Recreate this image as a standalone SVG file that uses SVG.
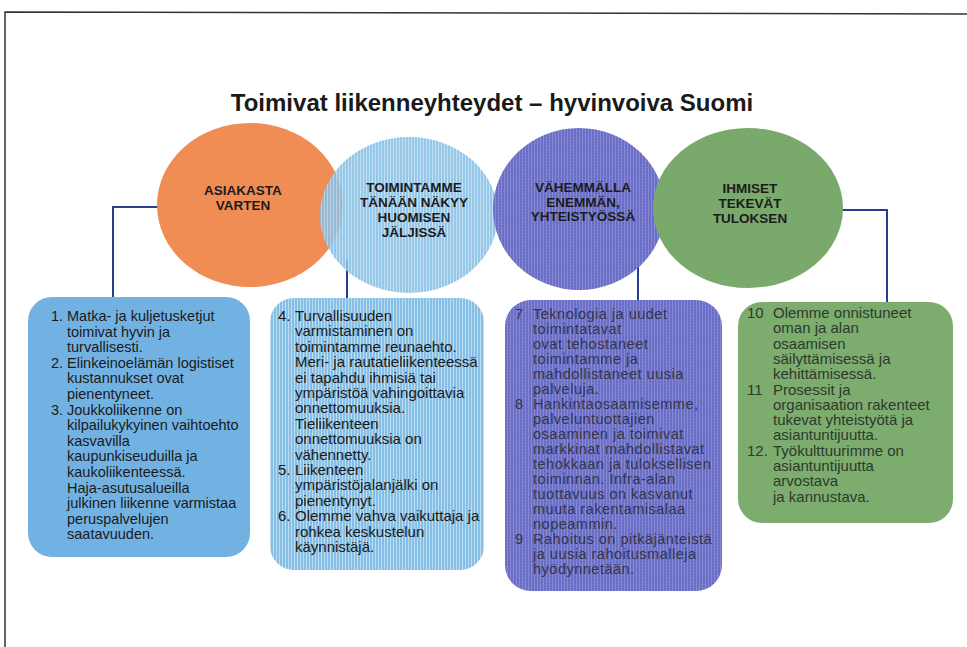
<svg xmlns="http://www.w3.org/2000/svg" width="967" height="647" viewBox="0 0 967 647">
<defs>
<pattern id="stripeBlue" width="3" height="4" patternUnits="userSpaceOnUse"><rect width="3" height="4" fill="#86bfe5"/><rect width="1" height="4" fill="#bddcf1"/></pattern>
<pattern id="stripePurple" width="3" height="3" patternUnits="userSpaceOnUse"><rect width="3" height="3" fill="#676bc3"/><rect width="1" height="3" fill="#8a8dd6"/><rect y="2" width="3" height="1" fill="#7a7dcf" opacity="0.6"/></pattern>
<style>
.title{font-family:"Liberation Sans",Arial,sans-serif;font-weight:bold;font-size:24px;fill:#1a1a1a}
.ct{font-family:"Liberation Sans",Arial,sans-serif;font-weight:bold;font-size:13.5px;text-anchor:middle;fill:#1c1c1c}
.bt{font-family:"Liberation Sans",Arial,sans-serif;fill:#1a1a1a}
.b1{font-size:14.5px}
.b2{font-size:15px}
.b3{font-size:14.5px;letter-spacing:0.5px;fill:#34344a}
.b4{font-size:15px;fill:#2c3a2c}
.conn{fill:none;stroke:#24408e;stroke-width:2}
</style>
</defs>
<rect width="967" height="647" fill="#ffffff"/>
<g id="frame">
<path d="M5,647 V12 L967,14" fill="none" stroke="#333" stroke-width="1.5"/>
</g>
<text class="title" x="492" y="111" text-anchor="middle">Toimivat liikenneyhteydet – hyvinvoiva Suomi</text>

<g id="connectors">
<path class="conn" d="M170,207 H113 V298"/>
<path class="conn" d="M347,260 V299"/>
<path class="conn" d="M638,260 V301"/>
<path class="conn" d="M830,210 H887 V303"/>
</g>

<g id="circle-asiakasta">
<ellipse cx="250" cy="205" rx="93" ry="82" fill="#f08d55"/>
<text class="ct" x="243" y="195">ASIAKASTA</text>
<text class="ct" x="243" y="210">VARTEN</text>
</g>
<g id="circle-toimintamme">
<ellipse cx="409" cy="215" rx="89" ry="78" fill="url(#stripeBlue)" opacity="0.88"/>
<text class="ct" x="414" y="192">TOIMINTAMME</text>
<text class="ct" x="414" y="207">TÄNÄÄN NÄKYY</text>
<text class="ct" x="414" y="222">HUOMISEN</text>
<text class="ct" x="414" y="237">JÄLJISSÄ</text>
</g>
<g id="circle-vahemmalla">
<ellipse cx="579" cy="209" rx="86" ry="81" fill="url(#stripePurple)"/>
<text class="ct" x="583" y="192" fill="#2a2a3a">VÄHEMMÄLLA</text>
<text class="ct" x="583" y="206.5" fill="#2a2a3a">ENEMMÄN,</text>
<text class="ct" x="583" y="221" fill="#2a2a3a">YHTEISTYÖSSÄ</text>
</g>
<g id="circle-ihmiset">
<ellipse cx="748" cy="208" rx="95" ry="80" fill="#79a96b"/>
<text class="ct" x="750" y="193" fill="#283628">IHMISET</text>
<text class="ct" x="750" y="208" fill="#283628">TEKEVÄT</text>
<text class="ct" x="750" y="223" fill="#283628">TULOKSEN</text>
</g>

<g id="box-1">
<rect x="28" y="297" width="222" height="260" rx="24" fill="#72b2e3"/>
<text class="bt b1">
<tspan x="51" y="321">1.</tspan><tspan x="67" y="321">Matka- ja kuljetusketjut</tspan>
<tspan x="67" y="336.6">toimivat hyvin ja</tspan>
<tspan x="67" y="352.2">turvallisesti.</tspan>
<tspan x="51" y="367.8">2.</tspan><tspan x="67" y="367.8">Elinkeinoelämän logistiset</tspan>
<tspan x="67" y="383.4">kustannukset ovat</tspan>
<tspan x="67" y="399">pienentyneet.</tspan>
<tspan x="51" y="414.6">3.</tspan><tspan x="67" y="414.6">Joukkoliikenne on</tspan>
<tspan x="67" y="430.2">kilpailukykyinen vaihtoehto</tspan>
<tspan x="67" y="445.8">kasvavilla</tspan>
<tspan x="67" y="461.4">kaupunkiseuduilla ja</tspan>
<tspan x="67" y="477">kaukoliikenteessä.</tspan>
<tspan x="67" y="492.6">Haja-asutusalueilla</tspan>
<tspan x="67" y="508.2">julkinen liikenne varmistaa</tspan>
<tspan x="67" y="523.8">peruspalvelujen</tspan>
<tspan x="67" y="539.4">saatavuuden.</tspan>
</text>
</g>

<g id="box-2">
<rect x="270" y="298" width="214" height="272" rx="24" fill="url(#stripeBlue)"/>
<text class="bt b2">
<tspan x="278" y="321">4.</tspan><tspan x="295" y="321">Turvallisuuden</tspan>
<tspan x="295" y="336.4">varmistaminen on</tspan>
<tspan x="295" y="351.8">toimintamme reunaehto.</tspan>
<tspan x="295" y="367.2">Meri- ja rautatieliikenteessä</tspan>
<tspan x="295" y="382.6">ei tapahdu ihmisiä tai</tspan>
<tspan x="295" y="398">ympäristöä vahingoittavia</tspan>
<tspan x="295" y="413.4">onnettomuuksia.</tspan>
<tspan x="295" y="428.8">Tieliikenteen</tspan>
<tspan x="295" y="444.2">onnettomuuksia on</tspan>
<tspan x="295" y="459.6">vähennetty.</tspan>
<tspan x="278" y="475">5.</tspan><tspan x="295" y="475">Liikenteen</tspan>
<tspan x="295" y="490.4">ympäristöjalanjälki on</tspan>
<tspan x="295" y="505.8">pienentynyt.</tspan>
<tspan x="278" y="521.2">6.</tspan><tspan x="295" y="521.2">Olemme vahva vaikuttaja ja</tspan>
<tspan x="295" y="536.6">rohkea keskustelun</tspan>
<tspan x="295" y="552">käynnistäjä.</tspan>
</text>
</g>

<g id="box-3">
<rect x="505" y="300" width="217" height="291" rx="26" fill="url(#stripePurple)"/>
<text class="bt b3">
<tspan x="515" y="319">7</tspan><tspan x="533" y="319">Teknologia ja uudet</tspan>
<tspan x="533" y="334">toimintatavat</tspan>
<tspan x="533" y="349">ovat tehostaneet</tspan>
<tspan x="533" y="364">toimintamme ja</tspan>
<tspan x="533" y="379">mahdollistaneet uusia</tspan>
<tspan x="533" y="394">palveluja.</tspan>
<tspan x="515" y="409">8</tspan><tspan x="533" y="409">Hankintaosaamisemme,</tspan>
<tspan x="533" y="424">palveluntuottajien</tspan>
<tspan x="533" y="439">osaaminen ja toimivat</tspan>
<tspan x="533" y="454">markkinat mahdollistavat</tspan>
<tspan x="533" y="469">tehokkaan ja tuloksellisen</tspan>
<tspan x="533" y="484">toiminnan. Infra-alan</tspan>
<tspan x="533" y="499">tuottavuus on kasvanut</tspan>
<tspan x="533" y="514">muuta rakentamisalaa</tspan>
<tspan x="533" y="529">nopeammin.</tspan>
<tspan x="515" y="544">9</tspan><tspan x="533" y="544">Rahoitus on pitkäjänteistä</tspan>
<tspan x="533" y="559">ja uusia rahoitusmalleja</tspan>
<tspan x="533" y="574">hyödynnetään.</tspan>
</text>
</g>

<g id="box-4">
<rect x="738" y="302" width="215" height="221" rx="24" fill="#7dac6f"/>
<text class="bt b4">
<tspan x="747" y="318">10</tspan><tspan x="773" y="318">Olemme onnistuneet</tspan>
<tspan x="773" y="333.3">oman ja alan</tspan>
<tspan x="773" y="348.6">osaamisen</tspan>
<tspan x="773" y="363.9">säilyttämisessä ja</tspan>
<tspan x="773" y="379.2">kehittämisessä.</tspan>
<tspan x="747" y="394.5">11</tspan><tspan x="773" y="394.5">Prosessit ja</tspan>
<tspan x="773" y="409.8">organisaation rakenteet</tspan>
<tspan x="773" y="425.1">tukevat yhteistyötä ja</tspan>
<tspan x="773" y="440.4">asiantuntijuutta.</tspan>
<tspan x="747" y="455.7">12.</tspan><tspan x="773" y="455.7">Työkulttuurimme on</tspan>
<tspan x="773" y="471">asiantuntijuutta</tspan>
<tspan x="773" y="486.3">arvostava</tspan>
<tspan x="773" y="501.6">ja kannustava.</tspan>
</text>
</g>
</svg>
